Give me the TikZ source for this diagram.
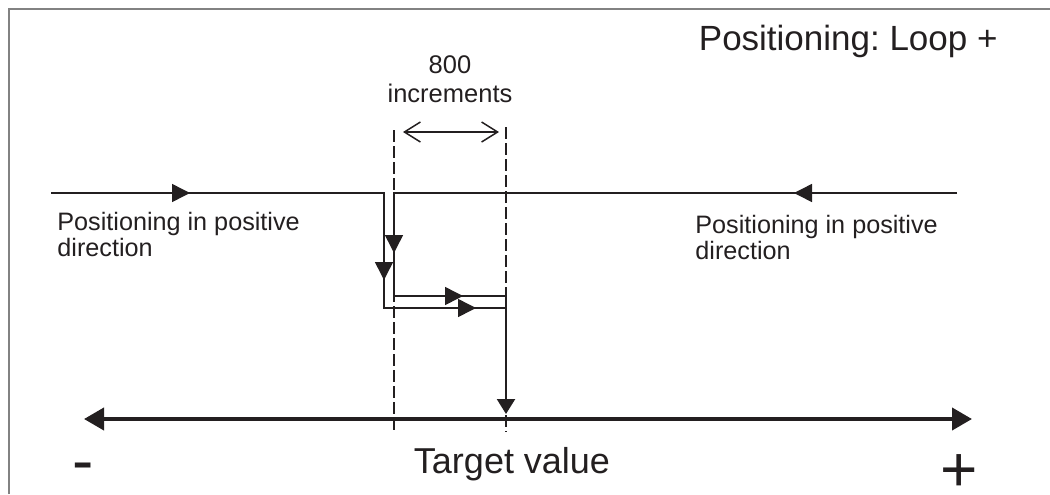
\documentclass[tikz,border=0pt]{standalone}
\usepackage{fontspec}
\setmainfont{Liberation Sans}
\frenchspacing
\usetikzlibrary{positioning,arrows.meta,decorations.markings}
\definecolor{colorline}  {RGB}{35 ,31 ,32 }
\definecolor{colorframe} {RGB}{130,130,130}
\tikzset{flowtip/.tip={Triangle[length=9pt,width=9pt]}}

\begin{document}
\begin{tikzpicture}[
    x=0.5pt, y=-0.5pt,
    title/.style={text=colorline,inner sep=0pt,font={\fontsize{17.5}{21}\selectfont}},
    label/.style={text=colorline,inner sep=0pt,align=left,font={\fontsize{12.6}{12.8}\selectfont}},
    sign/.style={text=colorline,inner sep=0pt,text depth=0pt,font={\fontsize{32}{34}\selectfont}},
    flow/.style={draw=colorline,line width=0.75pt,line join=miter,postaction={decorate}},
    limit/.style={draw=colorline,line width=0.6pt,dash pattern=on 6pt off 2pt},
    axis/.style={draw=colorline,line width=2pt,{Triangle[length=10pt,width=11pt]}-{Triangle[length=10pt,width=11pt]}},
]

    \useasboundingbox (0,0) rectangle (1050,494);
    \draw[colorframe,line width=1pt] (9,494) -- (9,9) -- (1050,9);

    % points of the two runs
    \coordinate (startL) at (51,193);
    \coordinate (cornL1) at (384,193);
    \coordinate (cornL2) at (384,308);
    \coordinate (joinL)  at (506,308);
    \coordinate (startR) at (957,193);
    \coordinate (cornR1) at (394,193);
    \coordinate (cornR2) at (394,296);
    \coordinate (cornR3) at (506,296);
    \coordinate (hit)    at (506,414);
    \coordinate (axisL)  at (84,419);
    \coordinate (axisR)  at (972,419);
    \coordinate (dashAt) at (394,130);
    \coordinate (dashAb) at (394,432);
    \coordinate (dashBt) at (506,127);
    \coordinate (dashBb) at (506,432);
    \coordinate (incL)   at (403,132);
    \coordinate (incR)   at (499,132);

    \node[title,anchor=base east] (head) at (998,50) {Positioning: Loop +};
    \node[label,font={\fontsize{12.75}{14.5}\selectfont},align=center,anchor=base] (incr) at (450,102) {800\\increments};
    \node[label,anchor=base west] (posL) at (57,256) {Positioning in positive\\direction};
    \node[label,anchor=base west] (posR) at (695,259) {Positioning in positive\\direction};
    \node[title,font={\fontsize{18}{21}\selectfont},anchor=base] (goal) at (512,473) {Target value};
    \node[sign] (minus) at (83.5,473) {-};
    \node[sign,anchor=base] (plus) at (959.5,491) {+};

    \draw[limit] (dashAt) -- (dashAb);
    \draw[limit] (dashBt) -- (dashBb);
    \draw[colorline,line width=0.75pt,{Straight Barb[length=8pt,width=10pt]}-{Straight Barb[length=8pt,width=10pt]}] (incL) -- (incR);

    \draw[flow,decoration={markings,
        mark=at position 69.5pt with {\arrow{flowtip}},
        mark=at position 210pt with {\arrow{flowtip}},
        mark=at position 270pt with {\arrow{flowtip}}}]
        (startL) -- (cornL1) -- (cornL2) -- (joinL);
    \draw[flow,decoration={markings,
        mark=at position 81.5pt with {\arrow{flowtip}},
        mark=at position 311.5pt with {\arrow{flowtip}},
        mark=at position 367.5pt with {\arrow{flowtip}}}]
        (startR) -- (cornR1) -- (cornR2) -- (cornR3);
    \draw[colorline,line width=1.15pt,-{Triangle[length=7.5pt,width=9pt]}] (cornR3) -- (hit);

    \draw[axis] (axisL) -- (axisR);

\end{tikzpicture}
\end{document}
